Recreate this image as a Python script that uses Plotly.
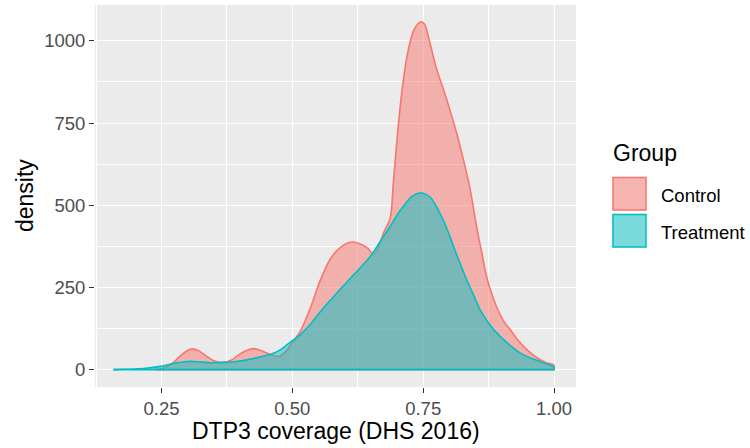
import plotly.graph_objects as go

# ---- data ----
control_x = [0.24, 0.255, 0.27, 0.285, 0.30, 0.309, 0.32, 0.335, 0.35, 0.369, 0.385, 0.40, 0.415,
             0.428, 0.44, 0.452, 0.463, 0.474, 0.487, 0.50, 0.515, 0.534, 0.553, 0.572, 0.592,
             0.614, 0.633, 0.645, 0.655, 0.665, 0.674, 0.687, 0.693, 0.700, 0.709, 0.719, 0.731,
             0.740, 0.746, 0.753, 0.763, 0.776, 0.789, 0.801, 0.814, 0.827, 0.840, 0.852, 0.862,
             0.871, 0.880, 0.890, 0.903, 0.916, 0.932, 0.948, 0.964, 0.980, 1.0]
control_y = [0, 5, 18, 40, 58, 63, 58, 42, 27, 22, 30, 48, 60,
             64, 58, 50, 44, 40, 55, 82, 116, 185, 270, 335, 372,
             388, 380, 368, 350, 375, 415, 460, 568, 699, 841, 952, 1028,
             1052, 1058, 1050, 993, 912, 851, 790, 719, 638, 547, 436, 355,
             284, 235, 192, 150, 122, 88, 61, 40, 25, 15]

treatment_x = [0.158, 0.18, 0.20, 0.22, 0.248, 0.27, 0.29, 0.305, 0.32, 0.345, 0.369, 0.39, 0.42,
               0.44, 0.464, 0.477, 0.49, 0.50, 0.515, 0.534, 0.553, 0.572, 0.592, 0.611, 0.630,
               0.649, 0.668, 0.687, 0.700, 0.712, 0.725, 0.735, 0.746, 0.755, 0.765, 0.782, 0.795,
               0.808, 0.820, 0.833, 0.846, 0.859, 0.878, 0.897, 0.916, 0.935, 0.954, 0.973, 0.99, 1.0]
treatment_y = [0, 1, 2, 4, 10, 18, 23, 25, 24, 21, 22, 24, 32,
               39, 50, 60, 76, 88, 106, 137, 175, 210, 245, 278, 310,
               344, 390, 436, 470, 496, 522, 533, 537, 533, 522, 476, 430,
               375, 325, 274, 228, 182, 135, 101, 74, 51, 36, 25, 15, 10]

groups = ["Control", "Treatment"]
x_ticks = [0.25, 0.50, 0.75, 1.00]
x_ticktext = ["0.25", "0.50", "0.75", "1.00"]
y_ticks = [0, 250, 500, 750, 1000]
x_minor = [0.125, 0.375, 0.625, 0.875]
y_minor = [125, 375, 625, 875]

line_colors = ["#F8766D", "#00BFC4"]
fill_colors = ["rgba(248,118,109,0.5)", "rgba(0,191,196,0.5)"]

FONT = "Liberation Sans, Arial, sans-serif"
W, H = 750, 448
ML, MR, MT, MB = 95, 174, 5, 61
PW, PH = W - ML - MR, H - MT - MB


def px2x(px):
    return (px - ML) / PW


def py2y(py):
    return (H - MB - py) / PH


fig = go.Figure()
for name, xs, ys, lc, fc in zip(groups, [control_x, treatment_x], [control_y, treatment_y],
                                line_colors, fill_colors):
    # density area with smooth upper outline
    fig.add_trace(go.Scatter(
        x=xs, y=ys, mode="lines", fill="tozeroy", fillcolor=fc,
        line=dict(color=lc, width=1.6, shape="spline", smoothing=0.8),
        name=name, showlegend=False, hoverinfo="skip"))
    # closing outline: right edge down to zero and the baseline
    fig.add_trace(go.Scatter(
        x=[xs[-1], xs[-1], xs[0]], y=[ys[-1], 0, 0], mode="lines",
        line=dict(color=lc, width=1.6), showlegend=False, hoverinfo="skip"))

axis_common = dict(
    showline=False, zeroline=False, ticks="outside", ticklen=5, tickwidth=1.4,
    tickcolor="#333333", gridcolor="#FFFFFF", gridwidth=1.4,
    tickfont=dict(family=FONT, size=18.5, color="#4D4D4D"),
)

fig.update_xaxes(range=[0.123, 1.042], tickmode="array", tickvals=x_ticks, ticktext=x_ticktext,
                 minor=dict(tickmode="array", tickvals=x_minor, showgrid=True,
                            gridcolor="#FFFFFF", gridwidth=0.7, ticks=""),
                 **axis_common)
fig.update_yaxes(range=[-52.8, 1109], tickmode="array", tickvals=y_ticks,
                 minor=dict(tickmode="array", tickvals=y_minor, showgrid=True,
                            gridcolor="#FFFFFF", gridwidth=0.7, ticks=""),
                 **axis_common)

annotations = [
    dict(text="density", x=px2x(25), y=py2y(196), textangle=-90,
         font=dict(family=FONT, size=23, color="#000000")),
    dict(text="DTP3 coverage (DHS 2016)", x=px2x(335.5), y=py2y(431),
         font=dict(family=FONT, size=23, color="#000000")),
    dict(text="Group", x=px2x(611), y=py2y(153), xanchor="left",
         font=dict(family=FONT, size=23, color="#000000")),
]
shapes = []
key_tops = [176.5, 213.5]
label_y = [195, 232]
for name, lc, fc, top, ly in zip(groups, line_colors, fill_colors, key_tops, label_y):
    shapes.append(dict(type="rect", xref="paper", yref="paper",
                       x0=px2x(612), x1=px2x(647), y0=py2y(top + 34.5), y1=py2y(top),
                       fillcolor="#F2F2F2", line=dict(width=0), layer="above"))
    shapes.append(dict(type="rect", xref="paper", yref="paper",
                       x0=px2x(613), x1=px2x(646), y0=py2y(top + 33.5), y1=py2y(top + 1),
                       fillcolor=fc, line=dict(color=lc, width=1.5), layer="above"))
    annotations.append(dict(text=name, x=px2x(659), y=py2y(ly), xanchor="left",
                            font=dict(family=FONT, size=18.5, color="#000000")))

for a in annotations:
    a.update(xref="paper", yref="paper", showarrow=False, yanchor="middle",
             xanchor=a.get("xanchor", "center"))

fig.update_layout(
    width=W, height=H, margin=dict(l=ML, r=MR, t=MT, b=MB, autoexpand=False),
    paper_bgcolor="#FFFFFF", plot_bgcolor="#EBEBEB",
    annotations=annotations, shapes=shapes, showlegend=False,
)

fig.write_html("out.html", config={"displayModeBar": False},
               post_script="document.body.style.margin='0';")
